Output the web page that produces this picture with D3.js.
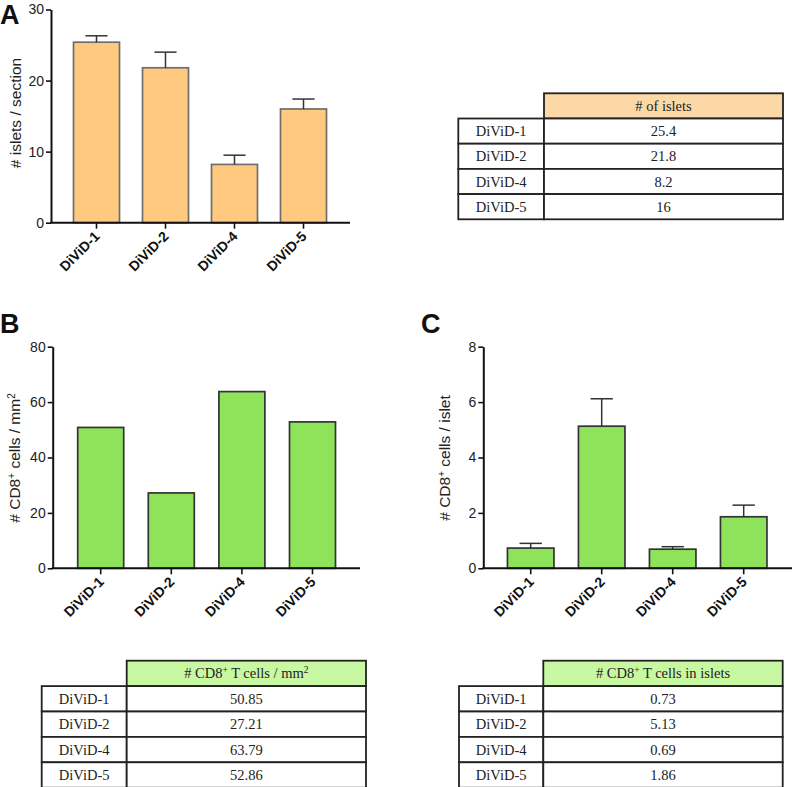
<!DOCTYPE html>
<html>
<head>
<meta charset="utf-8">
<script src="https://cdn.jsdelivr.net/npm/d3@7"></script>
<style>
  html, body { margin: 0; padding: 0; background: #fff; }
  svg { display: block; }
</style>
</head>
<body>
<svg id="chart" width="792" height="787"></svg>
<script>
// ---------------- DATA ----------------
const categories = ["DiViD-1", "DiViD-2", "DiViD-4", "DiViD-5"];

const isletsMean = [25.4, 21.8, 8.2, 16];
const isletsErr  = [0.9, 2.2, 1.3, 1.4];
const isletsTicks = [0, 10, 20, 30];

const cd8DensityMean = [50.85, 27.21, 63.79, 52.86];
const cd8DensityTicks = [0, 20, 40, 60, 80];

const cd8IsletMean = [0.73, 5.13, 0.69, 1.86];
const cd8IsletErr  = [0.17, 0.99, 0.09, 0.42];
const cd8IsletTicks = [0, 2, 4, 6, 8];

// ---------------- DRAW ----------------
const svg = d3.select("#chart");
const SANS = "'Liberation Sans', Arial, sans-serif";
const SERIF = "'Liberation Serif', 'Times New Roman', serif";

function panelLetter(txt, x, y) {
  svg.append("text").attr("x", x).attr("y", y)
    .attr("font-family", SANS).attr("font-weight", "bold")
    .attr("font-size", 27).attr("fill", "#111").text(txt);
}

function barPanel(o) {
  const g = svg.append("g");
  const y = d3.scaleLinear().domain(o.domain).range([o.y0, o.y1]);
  const pad = (o.step - o.barW) / o.step;
  const x = d3.scaleBand().domain(categories)
    .range([o.c0 - o.step / 2, o.c0 - o.step / 2 + categories.length * o.step])
    .paddingInner(pad).paddingOuter(pad / 2);

  // bars
  g.selectAll("rect.bar").data(o.values).enter().append("rect")
    .attr("x", (d, i) => x(categories[i]))
    .attr("y", d => y(d))
    .attr("width", x.bandwidth())
    .attr("height", d => y(0) - y(d))
    .attr("fill", o.fill).attr("stroke", o.stroke).attr("stroke-width", 1.7);

  // error bars
  if (o.errors) {
    const cap = x.bandwidth() * 0.48;
    o.errors.forEach((e, i) => {
      const cx = x(categories[i]) + x.bandwidth() / 2;
      const top = y(o.values[i] + e), base = y(o.values[i]);
      g.append("line").attr("x1", cx).attr("x2", cx).attr("y1", base).attr("y2", top)
        .attr("stroke", "#333").attr("stroke-width", 1.5);
      g.append("line").attr("x1", cx - cap / 2).attr("x2", cx + cap / 2).attr("y1", top).attr("y2", top)
        .attr("stroke", "#333").attr("stroke-width", 1.5);
    });
  }

  // y axis
  const ya = g.append("g").attr("transform", `translate(${o.ax},0)`)
    .call(d3.axisLeft(y).tickValues(o.ticks).tickSize(5).tickSizeOuter(0).tickPadding(2));
  ya.select(".domain").attr("stroke", "#111").attr("stroke-width", 2);
  ya.selectAll(".tick line").attr("stroke", "#111").attr("stroke-width", 1.6);
  ya.selectAll(".tick text").attr("font-family", SANS).attr("font-size", 14).attr("fill", "#222");

  // x axis
  g.append("line").attr("x1", o.ax - 1).attr("x2", o.xEnd).attr("y1", y(0)).attr("y2", y(0))
    .attr("stroke", "#111").attr("stroke-width", 2);
  categories.forEach((c, i) => {
    const cx = x(c) + x.bandwidth() / 2;
    g.append("line").attr("x1", cx).attr("x2", cx).attr("y1", y(0)).attr("y2", y(0) + 6)
      .attr("stroke", "#111").attr("stroke-width", 1.6);
    g.append("text")
      .attr("transform", `translate(${cx + 0.5},${y(0) + 11}) rotate(-45)`)
      .attr("text-anchor", "end").attr("dy", "0.35em")
      .attr("font-family", SANS).attr("font-weight", "bold").attr("font-size", 14)
      .attr("fill", "#111").text(c);
  });

  // y label
  const lab = g.append("text")
    .attr("transform", `translate(${o.labX},${o.labY}) rotate(-90)`)
    .attr("text-anchor", "middle").attr("dy", "0.35em")
    .attr("font-family", SANS).attr("font-size", 15.5).attr("fill", "#222");
  o.label.forEach(part => {
    const t = lab.append("tspan").text(part.t);
    if (part.sup) t.attr("baseline-shift", "super").attr("font-size", 10);
  });
}

function table(o) {
  const g = svg.append("g");
  const rowH = o.rowH;
  const fmt = d => String(d);
  // header
  g.append("rect").attr("x", o.x1).attr("y", o.y0).attr("width", o.x2 - o.x1).attr("height", rowH)
    .attr("fill", o.headFill).attr("stroke", "#222").attr("stroke-width", 1.8);
  const ht = g.append("text").attr("x", (o.x1 + o.x2) / 2).attr("y", o.y0 + rowH / 2)
    .attr("dy", "0.35em").attr("text-anchor", "middle")
    .attr("font-family", SERIF).attr("font-size", 14.5).attr("fill", "#222");
  o.header.forEach(part => {
    const t = ht.append("tspan").text(part.t);
    if (part.sup) t.attr("baseline-shift", "super").attr("font-size", 9.5);
  });
  categories.forEach((c, i) => {
    const yy = o.y0 + rowH * (i + 1);
    g.append("rect").attr("x", o.x0).attr("y", yy).attr("width", o.x1 - o.x0).attr("height", rowH)
      .attr("fill", "#fff").attr("stroke", "#222").attr("stroke-width", 1.8);
    g.append("rect").attr("x", o.x1).attr("y", yy).attr("width", o.x2 - o.x1).attr("height", rowH)
      .attr("fill", "#fff").attr("stroke", "#222").attr("stroke-width", 1.8);
    g.append("text").attr("x", (o.x0 + o.x1) / 2).attr("y", yy + rowH / 2).attr("dy", "0.35em")
      .attr("text-anchor", "middle").attr("font-family", SERIF).attr("font-size", 14.5)
      .attr("fill", "#222").text(c);
    g.append("text").attr("x", (o.x1 + o.x2) / 2).attr("y", yy + rowH / 2).attr("dy", "0.35em")
      .attr("text-anchor", "middle").attr("font-family", SERIF).attr("font-size", 14.5)
      .attr("fill", "#222").text(fmt(o.values[i]));
  });
}

// Panel A
panelLetter("A", 0, 24);
barPanel({
  values: isletsMean, errors: isletsErr, domain: [0, 30], ticks: isletsTicks,
  y0: 222.7, y1: 9.5, ax: 51, xEnd: 350, c0: 96.5, step: 69, barW: 46,
  fill: "#FFC97F", stroke: "#6e6e6e",
  labX: 16, labY: 113, label: [{ t: "# islets / section" }]
});
table({
  x0: 458.3, x1: 544, x2: 783, y0: 93.3, rowH: 25.2,
  headFill: "#FBD8A5", header: [{ t: "# of islets" }], values: isletsMean
});

// Panel B
panelLetter("B", 0, 333);
barPanel({
  values: cd8DensityMean, errors: null, domain: [0, 80], ticks: cd8DensityTicks,
  y0: 568.3, y1: 346.7, ax: 52.7, xEnd: 360, c0: 100.7, step: 70.6, barW: 46,
  fill: "#8EE35A", stroke: "#333",
  labX: 15, labY: 458,
  label: [{ t: "# CD8" }, { t: "+", sup: true }, { t: " cells / mm" }, { t: "2", sup: true }]
});
table({
  x0: 41.7, x1: 126.7, x2: 366, y0: 660.7, rowH: 25.4,
  headFill: "#C8F8A2",
  header: [{ t: "# CD8" }, { t: "+", sup: true }, { t: " T cells  / mm" }, { t: "2", sup: true }],
  values: cd8DensityMean
});

// Panel C
panelLetter("C", 421, 333);
barPanel({
  values: cd8IsletMean, errors: cd8IsletErr, domain: [0, 8], ticks: cd8IsletTicks,
  y0: 568.3, y1: 346.7, ax: 483.3, xEnd: 792, c0: 530.7, step: 71, barW: 46.5,
  fill: "#8EE35A", stroke: "#333",
  labX: 445, labY: 458,
  label: [{ t: "# CD8" }, { t: "+", sup: true }, { t: " cells / islet" }]
});
table({
  x0: 459, x1: 543.3, x2: 782.7, y0: 660.7, rowH: 25.4,
  headFill: "#C8F8A2",
  header: [{ t: "# CD8" }, { t: "+", sup: true }, { t: " T cells  in islets" }],
  values: cd8IsletMean
});
</script>
</body>
</html>
